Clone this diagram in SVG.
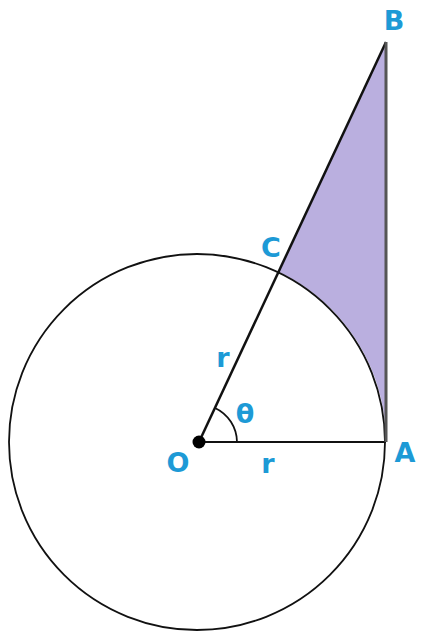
<svg xmlns="http://www.w3.org/2000/svg" width="427" height="635" viewBox="0 0 427 635">
<style>
.lbl{font-family:"DejaVu Sans","Liberation Sans",sans-serif;font-weight:bold;fill:#1d9ad6;font-size:27px;text-anchor:middle}
.ln{stroke:#111;fill:none}
</style>
<rect width="427" height="635" fill="#fff"/>
<g id="shade">
<path d="M278.6 271.7 L386 42 L386 442 A188 188 0 0 0 278.6 271.7 Z" fill="#baafdf" stroke="none"/>
</g>
<g id="circle">
<circle cx="197" cy="442" r="188" class="ln" stroke-width="1.8"/>
</g>
<g id="connectors">
<line x1="199" y1="442" x2="386" y2="42" class="ln" stroke-width="2.5"/>
<line x1="199" y1="442" x2="386" y2="442" class="ln" stroke-width="2.2"/>
<line x1="386" y1="42" x2="386" y2="442" stroke="#555" stroke-width="3"/>
<path d="M237 442 A38 38 0 0 0 215 408" class="ln" stroke-width="1.8"/>
</g>
<g id="O">
<circle cx="199" cy="442" r="6.5" fill="#000"/>
<text class="lbl" x="178" y="472">O</text>
</g>
<g id="A"><text class="lbl" x="405" y="462">A</text></g>
<g id="B"><text class="lbl" x="394" y="30">B</text></g>
<g id="C"><text class="lbl" x="271" y="257">C</text></g>
<g id="labels">
<text class="lbl" x="223" y="367">r</text>
<text class="lbl" x="268" y="473">r</text>
<text class="lbl" x="245" y="423">θ</text>
</g>
</svg>
